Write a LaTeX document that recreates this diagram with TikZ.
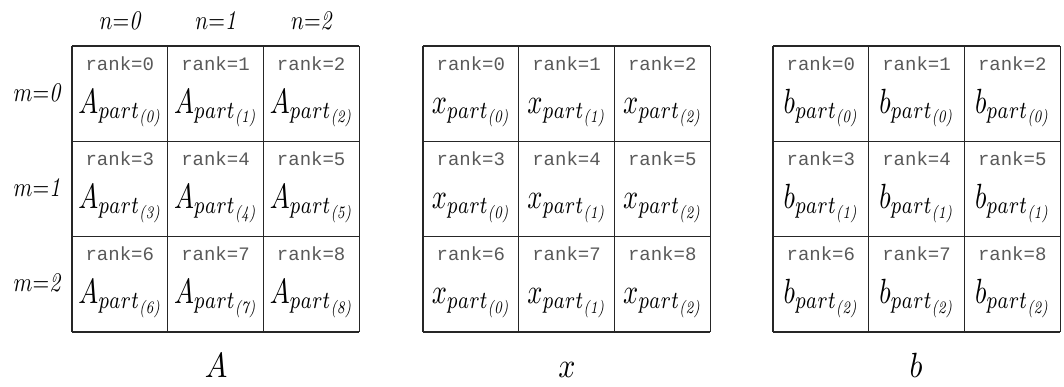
\documentclass[tikz,border=0pt]{standalone}
\usepackage{amsmath}
\usepackage{graphicx}
\usepackage{fontspec}
\newfontfamily\rankfont{Liberation Mono}
\newcommand{\partbox}[1]{\scalebox{2.65}[3.5]{\fontsize{10}{10}\selectfont #1}}
\newcommand{\idxbox}[1]{\scalebox{2.15}[2.7]{\fontsize{10}{10}\selectfont #1}}
\newcommand{\titlebox}[1]{\scalebox{3.0}[3.5]{\fontsize{10}{10}\selectfont #1}}
\begin{document}
\begin{tikzpicture}[x=1pt,y=-1pt,
  gridline/.style={line width=1.2pt,draw=black!85},
  ranklbl/.style={anchor=base,inner sep=0pt,font=\rankfont\fontsize{19}{19}\selectfont,text=black!65},
  partlbl/.style={anchor=base,inner sep=0pt},
  idxlbl/.style={anchor=base,inner sep=0pt},
  titlelbl/.style={anchor=base,inner sep=0pt}]
\useasboundingbox (0,0) rectangle (1064,386);
% grids
\foreach \gx/\gn in {72/A,423/x,773/b}{
  \foreach \i in {0,1,2,3}{
    \draw[gridline] ({\gx+\i*95.7},46) -- ({\gx+\i*95.7},332);
    \draw[gridline] (\gx,{46+\i*95.33}) -- ({\gx+287},{46+\i*95.33});
  }
}
% rank labels
\foreach \gx/\gn in {72/A,423/x,773/b}{
  \foreach \r in {0,1,2}{
    \foreach \c in {0,1,2}{
      \pgfmathtruncatemacro\k{3*\r+\c}
      \node[ranklbl] (rk\gn\k) at ({\gx+47.8+\c*95.7},{70+\r*95.33}) {rank=\k};
    }
  }
}
% parts
\foreach \r in {0,1,2}{
  \foreach \c in {0,1,2}{
    \pgfmathtruncatemacro\k{3*\r+\c}
    \node[partlbl] (pA\k) at ({72+48.5+\c*95.7},{113+\r*95.33}) {\partbox{$A_{part_{\textit{(\k)}}}$}};
    \node[partlbl] (px\k) at ({423+48.5+\c*95.7},{113+\r*95.33}) {\partbox{$x_{part_{\textit{(\c)}}}$}};
    \node[partlbl] (pb\k) at ({773+48.5+\c*95.7},{113+\r*95.33}) {\partbox{$b_{part_{\textit{(\r)}}}$}};
  }
}
% n and m labels
\foreach \c in {0,1,2}{
  \node[idxlbl] (n\c) at ({120+\c*95.7},29) {\idxbox{$n{=}\mathit{\c}$}};
  \node[idxlbl] (m\c) at (37,{101+\c*95.33}) {\idxbox{$m{=}\mathit{\c}$}};
}
% titles
\node[titlelbl] (tA) at (216,377) {\titlebox{$A$}};
\node[titlelbl] (tx) at (567,377) {\titlebox{$x$}};
\node[titlelbl] (tb) at (916,377) {\titlebox{$b$}};
\end{tikzpicture}
\end{document}
